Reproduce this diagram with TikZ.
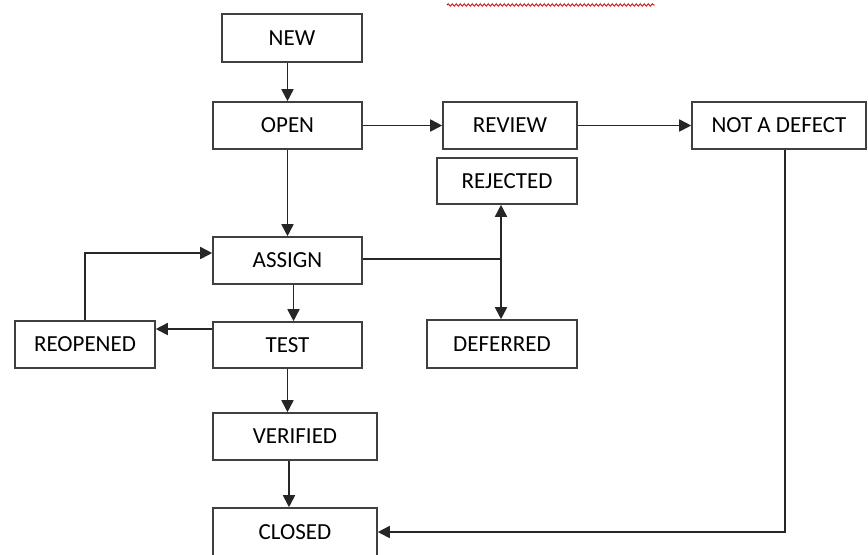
\documentclass[tikz,border=0pt]{standalone}
\usepackage{fontspec}
\setmainfont{Carlito}
\usetikzlibrary{arrows.meta,positioning,decorations.pathmorphing}

\begin{document}
\begin{tikzpicture}[
    x=0.5pt, y=-0.5pt,
    every node/.style={font=\fontsize{11.5}{13}\selectfont},
    stage/.style={draw=black!75, fill=white, align=center, inner sep=0pt,
                  minimum width=70pt, minimum height=23.5pt, line width=0.8pt},
    wide/.style={stage, minimum width=82pt},
    arrow/.style={-{Triangle[length=6pt, width=6pt]}, line width=0.85pt, draw=black!85},
    link/.style={line width=0.85pt, draw=black!85},
]
\useasboundingbox (0,0) rectangle (868,554);

% spell-check underline at the top
\draw[red!80!black, line width=0.4pt,
      decoration={snake, amplitude=0.6pt, segment length=2pt}, decorate]
     (447,5) -- (655,5);

% Main column
\node[stage, minimum width=70pt, minimum height=24pt] (new)  at (292,38)    {NEW};
\node[stage, minimum width=74.5pt] (open)     at (287.5,125.5) {OPEN};
\node[stage, minimum width=74.5pt] (assign)   at (287.5,260.5) {ASSIGN};
\node[stage, minimum width=74.5pt, minimum height=23pt] (test) at (287.5,345) {TEST};
\node[wide]                        (verified) at (295,436.5)   {VERIFIED};
\node[wide, minimum height=24pt]   (closed)   at (295,532)     {CLOSED};

% Side boxes
\node[stage, minimum width=67pt]   (review)   at (510,125.5)   {REVIEW};
\node[stage, minimum height=23pt]  (rejected) at (507,181)     {REJECTED};
\node[stage, minimum width=75pt, minimum height=24pt] (deferred) at (502,344) {DEFERRED};
\node[stage]                       (reopened) at (85,344.5)    {REOPENED};
\node[stage, minimum width=87pt]   (notdefect) at (779,125.5)  {NOT A DEFECT};

\coordinate (fork) at (501,259);

% Vertical arrows down the main column
\draw[arrow] (open.north |- new.south) -- (open.north);
\draw[arrow] (open.south)    -- (assign.north);
\draw[arrow] ([xshift=3pt]assign.south) -- ([xshift=3pt]test.north);
\draw[arrow] (test.south)    -- (verified.north -| test.south);
\draw[arrow] ([xshift=-3pt]verified.south) -- ([xshift=-3pt]closed.north);

% Review path
\draw[arrow] (open.east)   -- (review.west);
\draw[arrow] (review.east) -- (notdefect.west);
\draw[arrow] ([xshift=3pt]notdefect.south) |- (closed.east);

% Reopen loop
\draw[arrow] ([yshift=8pt]test.west) -- ([yshift=8pt]test.west -| reopened.east);
\draw[arrow] (reopened.north) |- ([yshift=3.75pt]assign.west);

% Rejected / deferred
\draw[link] (assign.east |- fork) -- (fork);
\draw[arrow, {Triangle[length=6pt, width=6pt]}-{Triangle[length=6pt, width=6pt]}]
     (rejected.south -| fork) -- (deferred.north -| fork);
\end{tikzpicture}
\end{document}
